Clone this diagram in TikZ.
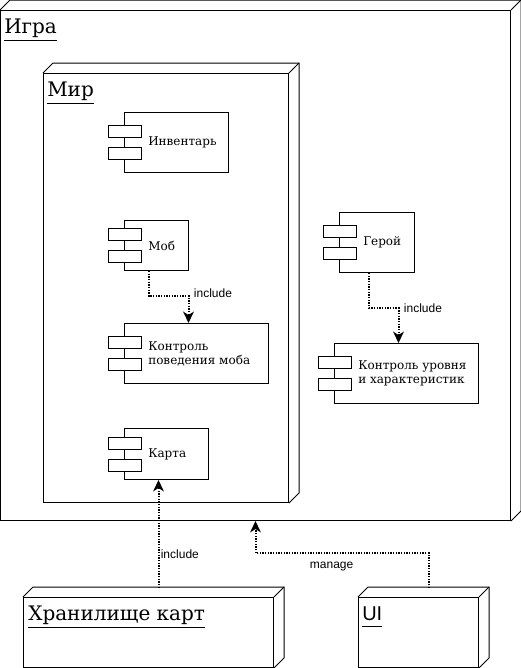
\documentclass[tikz,border=0pt]{standalone}
\usepackage{fontspec}
\setmainfont{DejaVu Serif}
\newfontfamily\labelfont{Liberation Sans}
\usetikzlibrary{arrows.meta, positioning, calc}

\begin{document}
\begin{tikzpicture}[
    x=0.75pt, y=-0.75pt,
    box3d/.style 2 args={rectangle, draw, fill=white, line width=0.75pt, anchor=north west, inner sep=0pt, minimum width=#1*0.75pt, minimum height=#2*0.75pt},
    edge3d/.style={draw, line width=0.75pt, line join=miter},
    comp/.style 2 args={rectangle, draw, fill=white, line width=0.75pt, anchor=north west, minimum width=#1*0.75pt, minimum height=#2*0.75pt},
    tag/.style={anchor=west, inner sep=0pt, xshift=18pt, align=left, font=\fontsize{9}{11}\selectfont},
    port/.style={draw, fill=white, line width=0.75pt},
    title/.style={anchor=west, inner sep=0pt, font=\fontsize{15}{18}\selectfont},
    dep/.style={->, >={Stealth[length=8.5pt, width=8pt, inset=2.5pt]}, line width=1.5pt, dash pattern=on 1pt off 1pt},
    deplabel/.style={font=\labelfont\fontsize{9}{11}\selectfont},
  ]

  \useasboundingbox (0,0) rectangle (521,668);

  % nodes (3d boxes)
  \node[box3d={510}{510}] (game) at (0,10) {};
  \node[box3d={245}{429}] (world) at (43,73) {};
  \node[box3d={250}{70}] (store) at (23,597) {};
  \node[box3d={120}{70}] (ui) at (358,597) {};

  \foreach \nd in {game, world, store, ui} {
    \draw[edge3d] (\nd.north west) -- ++(10,-10) -- ($(\nd.north east)+(10,-10)$) -- ($(\nd.south east)+(10,-10)$) -- (\nd.south east);
    \draw[edge3d] (\nd.north east) -- ++(10,-10);
  }

  \node[title] (game_t) at ($(game.north west)+(4,20)$) {\underline{Игра}};
  \node[title] (world_t) at ($(world.north west)+(4,20)$) {\underline{Мир}};
  \node[title] (store_t) at ($(store.north west)+(5,20)$) {\underline{Хранилище карт}};
  \node[title] (ui_t) at ($(ui.north west)+(4,20)$) {\labelfont\underline{UI\vphantom{y}}};

  % components
  \node[comp={104}{60}, label={[tag]west:Инвентарь}] (inv) at (124,112) {};
  \node[comp={64}{50}, label={[tag]west:Моб}] (mob) at (124,220) {};
  \node[comp={144}{60}, label={[tag, font=\fontsize{9}{10.5}\selectfont]west:Контроль\\поведения моба}] (mobctl) at (124,323) {};
  \node[comp={84}{51}, label={[tag]west:Карта}] (map) at (124,428) {};
  \node[comp={75}{60}, label={[tag]west:Герой}] (hero) at (339,212) {};
  \node[comp={144}{60}, label={[tag]west:Контроль уровня\\и характеристик}] (heroctl) at (334,343) {};

  \foreach \nd in {inv, mob, mobctl, map, hero, heroctl} {
    \draw[port] ($(\nd.west)+(-16,-17)$) rectangle ++(33,12);
    \draw[port] ($(\nd.west)+(-16,5)$) rectangle ++(33,12);
  }

  % dependencies
  \draw[dep] ([xshift=-6pt]mob.south) -- ++(0,25) -| node[deplabel, pos=0.5, right, yshift=2pt] {include} ([xshift=-6pt]mobctl.north);
  \draw[dep] ([xshift=-6pt]hero.south) -- ++(0,35) -| node[deplabel, pos=0.5, right] {include} ([xshift=-6pt]heroctl.north);

  \coordinate (store_top) at ($(store.north)+(10,-9)$);
  \coordinate (ui_top) at ($(ui.north)+(10,-9)$);
  \draw[dep] (store_top) -- node[deplabel, pos=0.31, right, inner xsep=1pt] {include} (store_top |- map.south);
  \draw[dep] (ui_top) -- ++(0,-35) -| node[deplabel, pos=0.28, below, yshift=-3pt] {manage} (game.south);

\end{tikzpicture}
\end{document}
